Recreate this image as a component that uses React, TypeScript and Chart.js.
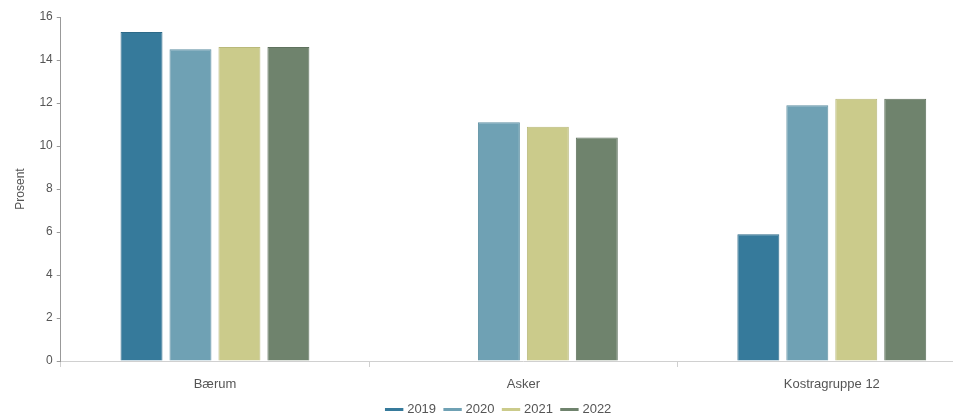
import React, { useEffect, useRef } from "react";
import { Chart, registerables } from "chart.js";

Chart.register(...registerables);

const categories = ["Bærum", "Asker", "Kostragruppe 12"];
const seriesLabels = ["2019", "2020", "2021", "2022"];
const values2019: (number | null)[] = [15.3, null, 5.9];
const values2020: (number | null)[] = [14.5, 11.1, 11.9];
const values2021: (number | null)[] = [14.6, 10.9, 12.2];
const values2022: (number | null)[] = [14.6, 10.4, 12.2];
const yTicks = [0, 2, 4, 6, 8, 10, 12, 14, 16];

const fills = ["#367a9b", "#6fa1b4", "#cbcb8b", "#6f836d"];
const borders = ["#2d6a88", "#5f90a3", "#b9b97a", "#5f725e"];
const FONT = "'Liberation Sans', Arial, sans-serif";
const TEXT = "#555";

const legendHeightPlugin = {
  id: "legendHeight",
  beforeLayout(chart: any) {
    const lg = chart.legend;
    if (lg && !lg.__patched) {
      const orig = lg.fit.bind(lg);
      lg.fit = () => {
        orig();
        lg.height = 23;
      };
      lg.__patched = true;
    }
  },
};

export default function App() {
  const ref = useRef<HTMLCanvasElement | null>(null);
  useEffect(() => {
    if (!ref.current) return;
    const all = [values2019, values2020, values2021, values2022];
    const chart = new Chart(ref.current, {
      type: "bar",
      plugins: [legendHeightPlugin],
      data: {
        labels: categories,
        datasets: all.map((d, i) => ({
          label: seriesLabels[i],
          data: d,
          backgroundColor: fills[i],
          borderColor: borders[i],
          borderWidth: 1,
          categoryPercentage: 0.635,
          barPercentage: 0.857,
        })),
      },
      options: {
        responsive: false,
        animation: false,
        layout: { padding: { left: 13, right: 9, top: 17, bottom: 0 } },
        plugins: {
          tooltip: { enabled: false },
          legend: {
            position: "bottom",
            labels: {
              usePointStyle: true,
              pointStyle: "line",
              boxWidth: 18,
              padding: 10,
              color: TEXT,
              font: { family: FONT, size: 13 },
              generateLabels: (c: any) =>
                c.data.datasets.map((ds: any, i: number) => ({
                  text: ds.label,
                  fillStyle: fills[i],
                  strokeStyle: fills[i],
                  fontColor: TEXT,
                  lineWidth: 3,
                  pointStyle: "line",
                  hidden: false,
                  datasetIndex: i,
                })),
            },
          },
        },
        scales: {
          x: {
            offset: true,
            afterFit: (s: any) => {
              s.height = 32;
            },
            grid: {
              offset: true,
              drawOnChartArea: false,
              drawTicks: true,
              tickLength: 6,
              color: "#d0d0d0",
            },
            border: { display: true, color: "#d0d0d0" },
            ticks: {
              color: TEXT,
              padding: 10,
              font: { family: FONT, size: 13 },
            },
          },
          y: {
            min: 0,
            max: 16,
            afterBuildTicks: (s: any) => {
              s.ticks = yTicks.map((v) => ({ value: v }));
            },
            grid: {
              drawOnChartArea: false,
              drawTicks: true,
              tickLength: 4,
              color: "#999",
            },
            border: { display: true, color: "#999" },
            title: {
              display: true,
              text: "Prosent",
              color: TEXT,
              padding: { top: 0, bottom: 8 },
              font: { family: FONT, size: 12 },
            },
            ticks: {
              color: TEXT,
              padding: 4,
              font: { family: FONT, size: 12 },
            },
          },
        },
      },
    });
    return () => chart.destroy();
  }, []);
  return (
    <div
      style={{
        position: "fixed",
        left: 0,
        top: 0,
        width: 953,
        height: 416,
        overflow: "hidden",
        background: "#fff",
      }}
    >
      <canvas ref={ref} width={995} height={416} style={{ display: "block" }} />
    </div>
  );
}
